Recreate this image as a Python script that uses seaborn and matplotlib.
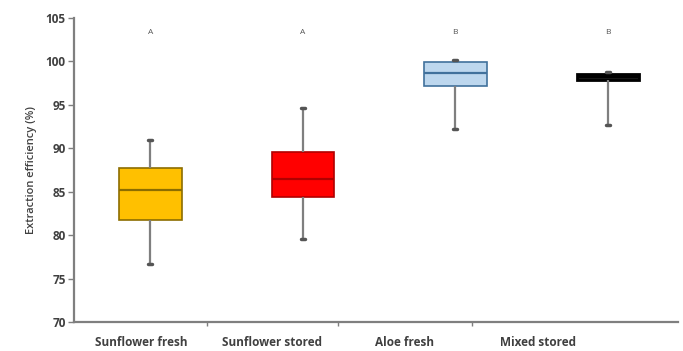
import matplotlib
matplotlib.use("Agg")
import matplotlib.pyplot as plt
import seaborn as sns
import pandas as pd

categories = ["Sunflower fresh", "Sunflower stored", "Aloe fresh", "Mixed stored"]
# five-number summaries: min, Q1, median, Q3, max
sunflower_fresh = [76.7, 81.8, 85.2, 87.7, 91.0]
sunflower_stored = [79.5, 84.4, 86.5, 89.6, 94.6]
aloe_fresh = [92.2, 97.2, 98.7, 99.9, 100.2]
mixed_stored = [92.7, 97.9, 98.2, 98.6, 98.8]
letters = ["A", "A", "B", "B"]
yticks = [70, 75, 80, 85, 90, 95, 100, 105]

fills = ["#FFC000", "#FF0000", "#BDD7EE", "#1A1A1A"]
edges = ["#8C6D00", "#B00000", "#41719C", "#000000"]

sns.set_style("white")
plt.rcParams["font.family"] = ["Open Sans", "DejaVu Sans"]

rows = []
for cat, vals in zip(categories, [sunflower_fresh, sunflower_stored, aloe_fresh, mixed_stored]):
    for v in vals:
        rows.append({"cat": cat, "val": v})
df = pd.DataFrame(rows)

fig = plt.figure(figsize=(6.83, 3.51), dpi=100)
ax = fig.add_axes([74 / 683, 1 - 322 / 351, (678 - 74) / 683, (322 - 18) / 351])

sns.boxplot(data=df, x="cat", y="val", hue="cat", order=categories, hue_order=categories,
            palette=dict(zip(categories, fills)), legend=False, whis=(0, 100), width=0.41,
            saturation=1, linewidth=1.2, linecolor="#7F7F7F", showfliers=False, ax=ax)

# per-box styling
for i, p in enumerate(ax.patches[:4]):
    p.set_edgecolor(edges[i])
    p.set_linewidth(1.2 if i < 3 else 2.0)
lines = ax.lines
for i in range(4):
    grp = lines[i * 5:(i + 1) * 5]
    for ln in grp[:2]:
        ln.set_color("#7F7F7F")
        ln.set_linewidth(1.6)
    for ln in grp[2:4]:
        ln.set_color("#555555")
        ln.set_linewidth(2.5)
        xd = ln.get_xdata()
        c = (xd[0] + xd[1]) / 2
        ln.set_xdata([c - 0.012, c + 0.012])
    grp[4].set_color(edges[i])
    grp[4].set_linewidth(1.6)

for i, t in enumerate(letters):
    ax.text(i, 103.3, t, ha="center", va="center", fontsize=6, color="#555555")

ax.set_ylim(70, 105)
ax.set_xlim(-0.5, 3.46)
ax.set_yticks(yticks)
ax.set_yticklabels([str(v) for v in yticks], fontsize=8.5, fontweight="bold", color="#404040")

label_pos = [-0.062, 0.80, 1.67, 2.54]
tick_pos = [0.37, 1.23, 2.11]
ax.set_xticks(label_pos)
ax.set_xticklabels(categories, fontsize=8.5, fontweight="bold", color="#404040")
ax.tick_params(axis="x", which="major", bottom=True, length=0, pad=10)
ax.set_xticks(tick_pos, minor=True)
ax.tick_params(axis="x", which="minor", bottom=True, length=3, width=1, color="#7F7F7F", direction="out")
ax.tick_params(axis="y", left=True, length=4, width=1, color="#7F7F7F", direction="out", pad=2)

ax.set_xlabel("")
ax.set_ylabel("Extraction efficiency (%)", fontsize=8, fontweight="semibold", color="#404040", labelpad=6)

for s in ["top", "right"]:
    ax.spines[s].set_visible(False)
for s in ["left", "bottom"]:
    ax.spines[s].set_color("#7F7F7F")
    ax.spines[s].set_linewidth(1.6)

fig.savefig("out.png", dpi=100)
